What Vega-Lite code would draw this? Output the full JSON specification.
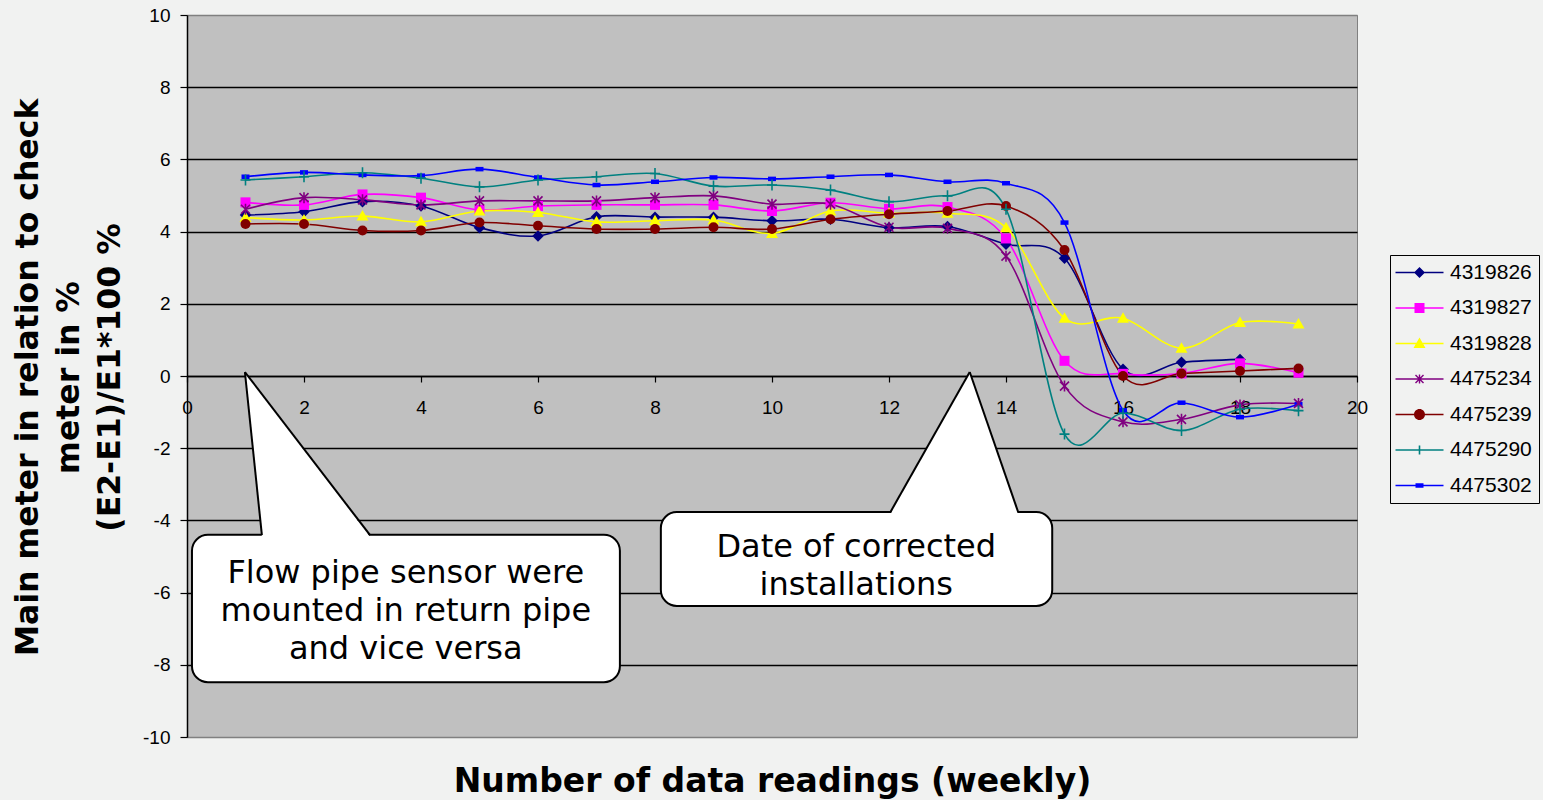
{
  "$schema": "https://vega.github.io/schema/vega-lite/v6.json",
  "width": 1170,
  "height": 722,
  "autosize": "none",
  "padding": {"left": 187, "top": 15, "right": 186, "bottom": 63},
  "background": "#f1f2f1",
  "view": {"fill": "#c0c0c0", "stroke": "#808080", "strokeWidth": 1},
  "config": {
    "view": {"fill": "#c0c0c0", "stroke": "#808080", "strokeWidth": 1}
  },
  "resolve": {"scale": {"color": "independent", "shape": "independent"}},
  "datasets": {
    "readings": [
      {"s":"4319826","x":1,"y":4.46},{"s":"4319826","x":2,"y":4.55},{"s":"4319826","x":3,"y":4.83},{"s":"4319826","x":4,"y":4.71},{"s":"4319826","x":5,"y":4.11},{"s":"4319826","x":6,"y":3.88},{"s":"4319826","x":7,"y":4.41},{"s":"4319826","x":8,"y":4.40},{"s":"4319826","x":9,"y":4.40},{"s":"4319826","x":10,"y":4.30},{"s":"4319826","x":11,"y":4.34},{"s":"4319826","x":12,"y":4.11},{"s":"4319826","x":13,"y":4.14},{"s":"4319826","x":14,"y":3.65},{"s":"4319826","x":15,"y":3.26},{"s":"4319826","x":16,"y":0.19},{"s":"4319826","x":17,"y":0.38},{"s":"4319826","x":18,"y":0.46},
      {"s":"4319827","x":1,"y":4.81},{"s":"4319827","x":2,"y":4.74},{"s":"4319827","x":3,"y":5.03},{"s":"4319827","x":4,"y":4.94},{"s":"4319827","x":5,"y":4.60},{"s":"4319827","x":6,"y":4.71},{"s":"4319827","x":7,"y":4.74},{"s":"4319827","x":8,"y":4.74},{"s":"4319827","x":9,"y":4.74},{"s":"4319827","x":10,"y":4.57},{"s":"4319827","x":11,"y":4.80},{"s":"4319827","x":12,"y":4.63},{"s":"4319827","x":13,"y":4.68},{"s":"4319827","x":14,"y":3.81},{"s":"4319827","x":15,"y":0.42},{"s":"4319827","x":16,"y":0.06},{"s":"4319827","x":17,"y":0.07},{"s":"4319827","x":18,"y":0.35},{"s":"4319827","x":19,"y":0.09},
      {"s":"4319828","x":1,"y":4.39},{"s":"4319828","x":2,"y":4.32},{"s":"4319828","x":3,"y":4.43},{"s":"4319828","x":4,"y":4.27},{"s":"4319828","x":5,"y":4.57},{"s":"4319828","x":6,"y":4.53},{"s":"4319828","x":7,"y":4.27},{"s":"4319828","x":8,"y":4.30},{"s":"4319828","x":9,"y":4.32},{"s":"4319828","x":10,"y":3.95},{"s":"4319828","x":11,"y":4.57},{"s":"4319828","x":12,"y":4.51},{"s":"4319828","x":13,"y":4.51},{"s":"4319828","x":14,"y":4.11},{"s":"4319828","x":15,"y":1.60},{"s":"4319828","x":16,"y":1.60},{"s":"4319828","x":17,"y":0.77},{"s":"4319828","x":18,"y":1.48},{"s":"4319828","x":19,"y":1.44},
      {"s":"4475234","x":1,"y":4.62},{"s":"4475234","x":2,"y":4.94},{"s":"4475234","x":3,"y":4.88},{"s":"4475234","x":4,"y":4.74},{"s":"4475234","x":5,"y":4.85},{"s":"4475234","x":6,"y":4.85},{"s":"4475234","x":7,"y":4.85},{"s":"4475234","x":8,"y":4.94},{"s":"4475234","x":9,"y":4.99},{"s":"4475234","x":10,"y":4.76},{"s":"4475234","x":11,"y":4.76},{"s":"4475234","x":12,"y":4.12},{"s":"4475234","x":13,"y":4.09},{"s":"4475234","x":14,"y":3.32},{"s":"4475234","x":15,"y":-0.28},{"s":"4475234","x":16,"y":-1.27},{"s":"4475234","x":17,"y":-1.20},{"s":"4475234","x":18,"y":-0.80},{"s":"4475234","x":19,"y":-0.76},
      {"s":"4475239","x":1,"y":4.21},{"s":"4475239","x":2,"y":4.21},{"s":"4475239","x":3,"y":4.03},{"s":"4475239","x":4,"y":4.03},{"s":"4475239","x":5,"y":4.25},{"s":"4475239","x":6,"y":4.16},{"s":"4475239","x":7,"y":4.07},{"s":"4475239","x":8,"y":4.07},{"s":"4475239","x":9,"y":4.12},{"s":"4475239","x":10,"y":4.07},{"s":"4475239","x":11,"y":4.34},{"s":"4475239","x":12,"y":4.48},{"s":"4475239","x":13,"y":4.57},{"s":"4475239","x":14,"y":4.71},{"s":"4475239","x":15,"y":3.49},{"s":"4475239","x":16,"y":0.0},{"s":"4475239","x":17,"y":0.07},{"s":"4475239","x":18,"y":0.14},{"s":"4475239","x":19,"y":0.21},
      {"s":"4475290","x":1,"y":5.43},{"s":"4475290","x":2,"y":5.52},{"s":"4475290","x":3,"y":5.63},{"s":"4475290","x":4,"y":5.48},{"s":"4475290","x":5,"y":5.24},{"s":"4475290","x":6,"y":5.43},{"s":"4475290","x":7,"y":5.52},{"s":"4475290","x":8,"y":5.61},{"s":"4475290","x":9,"y":5.26},{"s":"4475290","x":10,"y":5.29},{"s":"4475290","x":11,"y":5.15},{"s":"4475290","x":12,"y":4.83},{"s":"4475290","x":13,"y":4.99},{"s":"4475290","x":14,"y":4.62},{"s":"4475290","x":15,"y":-1.61},{"s":"4475290","x":16,"y":-1.03},{"s":"4475290","x":17,"y":-1.51},{"s":"4475290","x":18,"y":-0.92},{"s":"4475290","x":19,"y":-0.96},
      {"s":"4475302","x":1,"y":5.52},{"s":"4475302","x":2,"y":5.64},{"s":"4475302","x":3,"y":5.57},{"s":"4475302","x":4,"y":5.55},{"s":"4475302","x":5,"y":5.73},{"s":"4475302","x":6,"y":5.50},{"s":"4475302","x":7,"y":5.29},{"s":"4475302","x":8,"y":5.38},{"s":"4475302","x":9,"y":5.50},{"s":"4475302","x":10,"y":5.46},{"s":"4475302","x":11,"y":5.52},{"s":"4475302","x":12,"y":5.57},{"s":"4475302","x":13,"y":5.38},{"s":"4475302","x":14,"y":5.34},{"s":"4475302","x":15,"y":4.25},{"s":"4475302","x":16,"y":-0.95},{"s":"4475302","x":17,"y":-0.74},{"s":"4475302","x":18,"y":-1.14},{"s":"4475302","x":19,"y":-0.78}
    ]
  },
  "layer": [
    {
      "data": {"name": "readings"},
      "mark": {"type": "line", "interpolate": "cardinal", "strokeWidth": 1.6},
      "encoding": {
        "x": {"field": "x", "type": "quantitative", "scale": {"domain": [0, 20], "nice": false, "zero": false},
          "axis": {"title": "Number of data readings (weekly)", "titleFont": "DejaVu Sans", "titleFontWeight": "bold", "titleColor": "black", "titleFontSize": 33, "titleY": 405, "titleBaseline": "middle", "orient": "bottom", "offset": -361,
            "values": [0,2,4,6,8,10,12,14,16,18,20], "labelExpr": "'' + datum.value", "labelFlush": false, "grid": false, "tickSize": 6, "tickColor": "black", "tickWidth": 1.2, "domainColor": "black", "domainWidth": 1.5,
            "labelFont": "Liberation Sans", "labelFontSize": 19, "labelColor": "black", "labelPadding": 16}},
        "y": {"field": "y", "type": "quantitative", "scale": {"domain": [-10, 10], "nice": false, "zero": false},
          "axis": {"title": ["Main meter in relation to check", "meter in %", "(E2-E1)/E1*100 %"], "titleFont": "DejaVu Sans", "titleFontWeight": "bold", "titleColor": "black", "titleFontSize": 31.5, "titleLineHeight": 41, "titleAngle": -90, "titleAlign": "center", "titleBaseline": "middle", "titleX": -159, "titleY": 362,
            "values": [-10,-8,-6,-4,-2,0,2,4,6,8,10], "labelExpr": "'' + datum.value", "grid": true,
            "gridColor": {"condition": {"test": "datum.value === 10 || datum.value === -10", "value": "#808080"}, "value": "black"},
            "gridWidth": 1.4, "tickSize": 7, "tickColor": "black", "tickWidth": 1.2, "domainColor": "black", "domainWidth": 1.5,
            "labelFont": "Liberation Sans", "labelFontSize": 19, "labelColor": "black", "labelPadding": 10}},
        "color": {"field": "s", "type": "nominal", "legend": null,
          "scale": {"domain": ["4319826","4319827","4319828","4475234","4475239","4475290","4475302"], "range": ["#000080","#ff00ff","#ffff00","#800080","#800000","#008080","#0000ff"]}}
      }
    },
    {
      "data": {"name": "readings"},
      "transform": [{"filter": "datum.s !== '4475234' && datum.s !== '4475290'"}],
      "mark": {"type": "point", "filled": true, "size": 100, "opacity": 1},
      "encoding": {
        "x": {"field": "x", "type": "quantitative"},
        "y": {"field": "y", "type": "quantitative"},
        "color": {"field": "s", "type": "nominal", "legend": null,
          "scale": {"domain": ["4319826","4319827","4319828","4475234","4475239","4475290","4475302"], "range": ["#000080","#ff00ff","#ffff00","#800080","#800000","#008080","#0000ff"]}},
        "shape": {"field": "s", "type": "nominal", "legend": null,
          "scale": {"domain": ["4319826","4319827","4319828","4475234","4475239","4475290","4475302"],
            "range": ["M0,-1.15L1.15,0L0,1.15L-1.15,0Z", "M-1,-1H1V1H-1Z", "M0,-1.2L1.2,0.9H-1.2Z", "M-0.9,-0.9L0.9,0.9M-0.9,0.9L0.9,-0.9M0,-1.1V1.1", "circle", "M-1,0H1M0,-1.1V1.1", "M-0.8,-0.45H0.8V0.45H-0.8Z"]}}
      }
    },
    {
      "data": {"name": "readings"},
      "transform": [{"filter": "datum.s === '4475234' || datum.s === '4475290'"}],
      "mark": {"type": "point", "filled": false, "size": 100, "strokeWidth": 1.6, "opacity": 1},
      "encoding": {
        "x": {"field": "x", "type": "quantitative"},
        "y": {"field": "y", "type": "quantitative"},
        "color": {"field": "s", "type": "nominal", "legend": null,
          "scale": {"domain": ["4319826","4319827","4319828","4475234","4475239","4475290","4475302"], "range": ["#000080","#ff00ff","#ffff00","#800080","#800000","#008080","#0000ff"]}},
        "shape": {"field": "s", "type": "nominal", "legend": null,
          "scale": {"domain": ["4319826","4319827","4319828","4475234","4475239","4475290","4475302"],
            "range": ["M0,-1.15L1.15,0L0,1.15L-1.15,0Z", "M-1,-1H1V1H-1Z", "M0,-1.2L1.2,0.9H-1.2Z", "M-0.9,-0.9L0.9,0.9M-0.9,0.9L0.9,-0.9M0,-1.1V1.1", "circle", "M-1,0H1M0,-1.1V1.1", "M-0.8,-0.45H0.8V0.45H-0.8Z"]}}
      }
    },
    {
      "data": {"values": []},
      "mark": {"type": "point", "filled": true, "size": 400},
      "encoding": {
        "color": {"field": "s", "type": "nominal",
          "scale": {"domain": ["4319826","4319827","4319828","4475234","4475239","4475290","4475302"], "range": ["#000080","#ff00ff","#ffff00","#800080","#800000","#008080","#0000ff"]},
          "legend": {"title": null, "orient": "none", "legendX": 1203, "legendY": 240, "padding": 7, "rowPadding": 13.5, "symbolSize": 400, "symbolOffset": 12, "labelOffset": 20, "labelFont": "Liberation Sans", "labelFontSize": 21, "labelColor": "black", "strokeColor": "black", "fillColor": "#f1f2f1", "symbolStrokeWidth": 0, "symbolOpacity": 1}},
        "shape": {"field": "s", "type": "nominal",
          "scale": {"domain": ["4319826","4319827","4319828","4475234","4475239","4475290","4475302"],
            "range": [
              "M-2.4,-0.08H2.4V0.08H-2.4ZM0,-0.55L0.55,0L0,0.55L-0.55,0Z",
              "M-2.4,-0.08H2.4V0.08H-2.4ZM-0.5,-0.5H0.5V0.5H-0.5Z",
              "M-2.4,-0.08H2.4V0.08H-2.4ZM0,-0.6L0.6,0.45H-0.6Z",
              "M-2.4,-0.08H2.4V0.08H-2.4ZM-0.07,-0.45H0.07V0.45H-0.07ZM-0.35,-0.45L0.45,0.35L0.35,0.45L-0.45,-0.35ZM-0.45,0.35L0.35,-0.45L0.45,-0.35L-0.35,0.45Z",
              "M-2.4,-0.08H2.4V0.08H-2.4ZM-0.55,0A0.55,0.55,0,1,1,0.55,0A0.55,0.55,0,1,1,-0.55,0Z",
              "M-2.4,-0.08H2.4V0.08H-2.4ZM-0.08,-0.45H0.08V0.45H-0.08Z",
              "M-2.4,-0.08H2.4V0.08H-2.4ZM-0.4,-0.22H0.4V0.22H-0.4Z"
            ]},
          "legend": {"title": null, "orient": "none", "legendX": 1203, "legendY": 240, "padding": 7, "rowPadding": 13.5, "symbolSize": 400, "symbolOffset": 12, "labelOffset": 20, "labelFont": "Liberation Sans", "labelFontSize": 21, "labelColor": "black", "strokeColor": "black", "fillColor": "#f1f2f1", "symbolStrokeWidth": 0, "symbolOpacity": 1}}
      }
    },
    {
      "data": {"values": [
        {"a": 0.085, "a2": 7.40, "b": -4.40, "b2": -8.48},
        {"a": 8.10, "a2": 14.79, "b": -3.77, "b2": -6.37}
      ]},
      "mark": {"type": "rect", "fill": "white", "stroke": "black", "strokeWidth": 2, "cornerRadius": 16},
      "encoding": {
        "x": {"field": "a", "type": "quantitative"},
        "x2": {"field": "a2"},
        "y": {"field": "b", "type": "quantitative"},
        "y2": {"field": "b2"}
      }
    },
    {
      "data": {"values": [
        {"id": 1, "ty": 0.11, "lx": 0.99, "rx": 0.99},
        {"id": 1, "ty": -4.46, "lx": 1.28, "rx": 3.13},
        {"id": 2, "ty": 0.11, "lx": 13.38, "rx": 13.38},
        {"id": 2, "ty": -3.83, "lx": 12.02, "rx": 14.21}
      ]},
      "mark": {"type": "area", "fill": "white", "orient": "horizontal", "opacity": 1},
      "encoding": {
        "y": {"field": "ty", "type": "quantitative"},
        "x": {"field": "lx", "type": "quantitative"},
        "x2": {"field": "rx"},
        "detail": {"field": "id", "type": "nominal"}
      }
    },
    {
      "data": {"values": [
        {"x1": 0.99, "y1": 0.11, "xe": 1.28, "ye": -4.41},
        {"x1": 0.99, "y1": 0.11, "xe": 3.13, "ye": -4.41},
        {"x1": 13.38, "y1": 0.11, "xe": 12.02, "ye": -3.78},
        {"x1": 13.38, "y1": 0.11, "xe": 14.21, "ye": -3.78}
      ]},
      "mark": {"type": "rule", "color": "black", "strokeWidth": 2},
      "encoding": {
        "x": {"field": "x1", "type": "quantitative"},
        "y": {"field": "y1", "type": "quantitative"},
        "x2": {"field": "xe"},
        "y2": {"field": "ye"}
      }
    },
    {
      "data": {"values": [
        {"tx": 3.74, "ty": -5.46, "t": "Flow pipe sensor were\nmounted in return pipe\nand vice versa"},
        {"tx": 11.44, "ty": -4.74, "t": "Date of corrected\ninstallations"}
      ]},
      "mark": {"type": "text", "font": "DejaVu Sans", "fontSize": 32, "lineHeight": 38, "lineBreak": "\n", "align": "center", "baseline": "middle", "color": "black"},
      "encoding": {
        "x": {"field": "tx", "type": "quantitative"},
        "y": {"field": "ty", "type": "quantitative"},
        "text": {"field": "t"}
      }
    }
  ]
}
